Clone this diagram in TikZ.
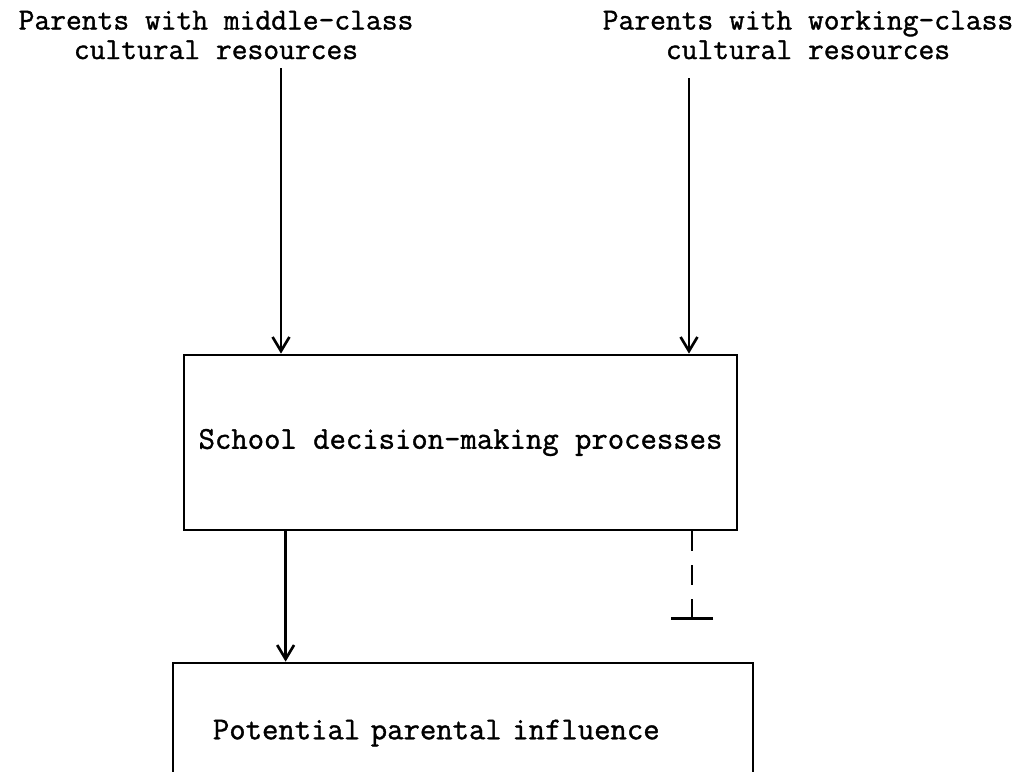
\documentclass[tikz,border=0pt]{standalone}
\usepackage{fontspec}
\newfontfamily\typefont[AutoFakeBold=1.2]{Latin Modern Mono}
\usetikzlibrary{arrows.meta}
\begin{document}
\begin{tikzpicture}[x=0.025cm, y=-0.025cm,
    line width=1.9pt,
    heading/.style={align=center, font=\typefont\bfseries\fontsize{21.8}{21}\selectfont},
    stage/.style={draw, rectangle, font=\typefont\bfseries\fontsize{22.6}{21}\selectfont},
    flow/.style={-{Straight Barb[length=10pt, width=12pt, line width=1.9pt]}}]
    % Marco del dibujo
    \path[use as bounding box] (0,0) rectangle (1034,771);
    \clip (0,0) rectangle (1034,771);

    % Recursos culturales de los padres
    \node[heading] (midclass) at (216,35) {Parents with middle-class\\cultural resources};
    \node[heading] (workclass) at (808,35) {Parents with working-class\\cultural resources};
    \coordinate (midstart) at (281,68);
    \coordinate (workstart) at (689,78);

    % Cajas
    \node[stage, minimum width=13.825cm, minimum height=4.375cm] (decision) at (460.5,442.5)
        {School decision-making processes};
    \node[stage, minimum width=14.5cm, minimum height=3.5cm, inner xsep=1cm,
        text width=12.5cm, align=left] (influence) at (463,733)
        {Potential parental influence};

    % Flechas de entrada
    \draw[flow] (midstart) -- (midstart |- decision.north);
    \draw[flow] (workstart) -- (workstart |- decision.north);

    % Salidas: influencia y bloqueo
    \draw[flow] ([xshift=2.575cm]decision.south west) -- ([xshift=2.575cm]decision.south west |- influence.north);
    \coordinate (blocked) at (692,620);
    \draw[dash pattern=on 0.5cm off 0.35cm, -{Bar[width=1.05cm, line width=1.9pt]}]
        (decision.south -| blocked) -- (blocked);
\end{tikzpicture}
\end{document}
